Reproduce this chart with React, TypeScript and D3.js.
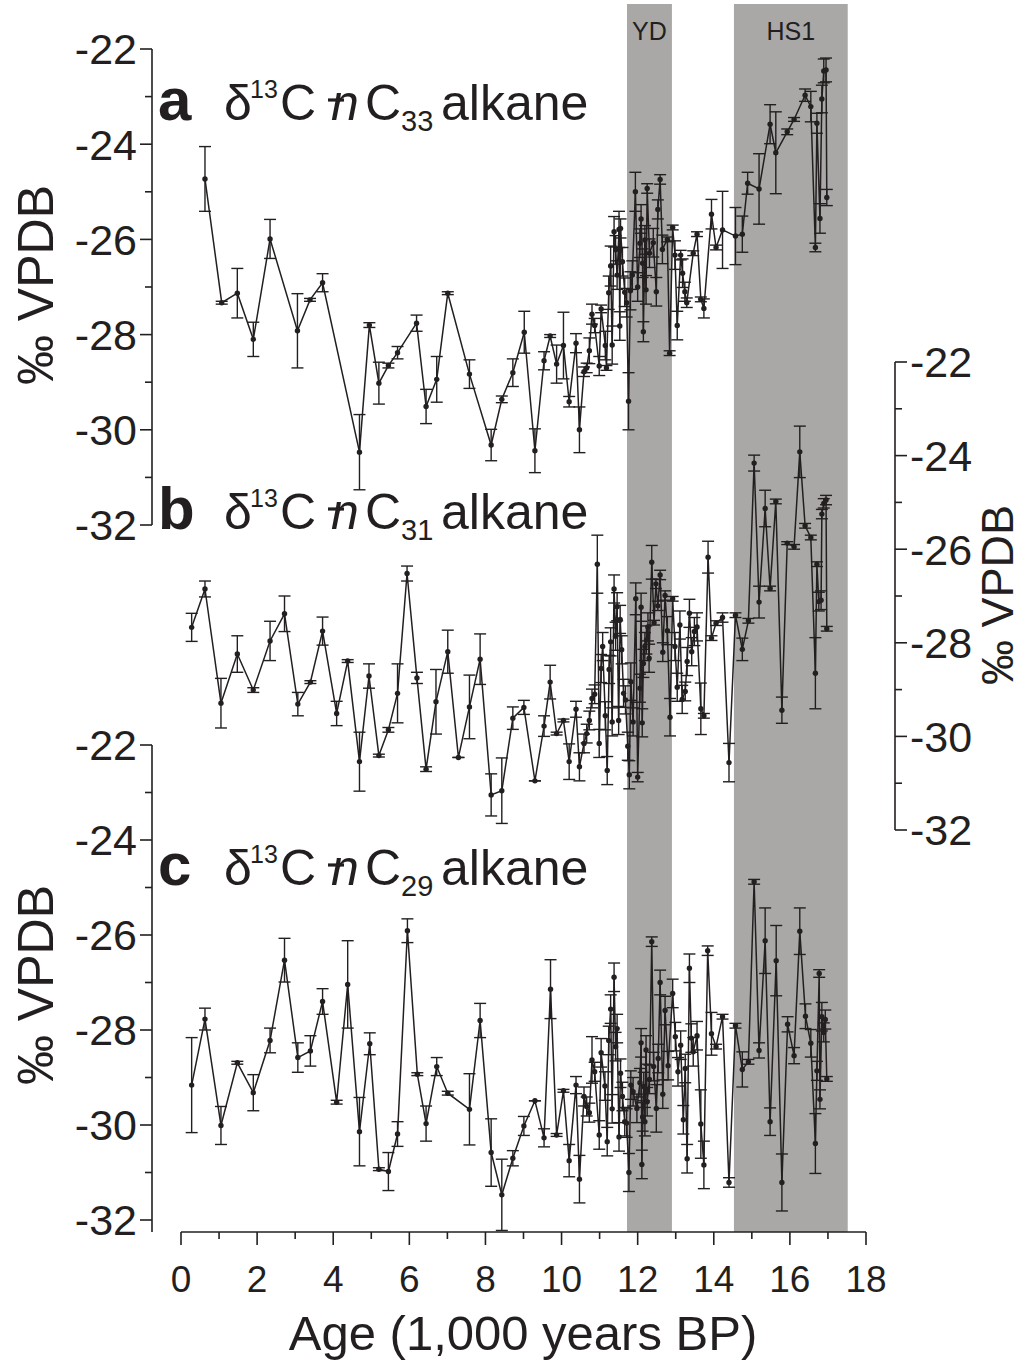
import React from "react";
import * as d3 from "d3";

// [age (kyr BP), d13C (‰ VPDB), error]
const seriesA: [number, number, number][] = [
  [0.63, -24.73, 0.68], [1.07, -27.33, 0.03], [1.48, -27.13, 0.52], [1.9, -28.1, 0.36], [2.34, -25.99, 0.41],
  [3.06, -27.92, 0.78], [3.39, -27.27, 0.03], [3.72, -26.91, 0.19], [4.69, -30.47, 0.79], [4.95, -27.8, 0.05],
  [5.2, -29.02, 0.44], [5.45, -28.65, 0.05], [5.69, -28.38, 0.13], [6.19, -27.76, 0.17], [6.44, -29.51, 0.36],
  [6.72, -28.94, 0.48], [7.01, -27.13, 0.03], [7.58, -28.83, 0.3], [8.15, -30.32, 0.33], [8.43, -29.36, 0.07],
  [8.72, -28.8, 0.29], [9.02, -27.95, 0.44], [9.3, -30.44, 0.46], [9.54, -28.55, 0.19], [9.7, -28.03, 0.03],
  [9.87, -28.62, 0.4], [10.05, -28.23, 0.7], [10.2, -29.41, 0.11], [10.38, -28.18, 0.2], [10.47, -30.0, 0.48],
  [10.59, -28.78, 0.1], [10.66, -28.7, 0.1], [10.73, -28.34, 0.27], [10.8, -27.57, 0.21], [10.87, -27.81, 0.15],
  [10.99, -28.66, 0.2], [11.04, -27.46, 0.08], [11.15, -28.23, 0.3], [11.18, -28.7, 0.05], [11.24, -27.12, 0.35],
  [11.29, -26.56, 0.42], [11.33, -28.22, 0.4], [11.38, -25.84, 0.32], [11.42, -26.22, 0.3], [11.46, -26.75, 0.3],
  [11.51, -25.79, 0.38], [11.53, -27.82, 0.3], [11.55, -25.77, 0.2], [11.6, -26.47, 0.3], [11.66, -27.11, 0.3],
  [11.71, -27.33, 0.3], [11.76, -29.4, 0.6], [11.81, -27.08, 0.4], [11.86, -26.75, 0.3], [11.94, -25.0, 0.41],
  [12.0, -27.0, 0.3], [12.06, -26.08, 0.3], [12.09, -25.57, 0.3], [12.13, -26.5, 0.3], [12.15, -27.94, 0.21],
  [12.19, -26.01, 0.3], [12.22, -27.06, 0.3], [12.25, -24.93, 0.1], [12.31, -26.29, 0.3], [12.41, -26.07, 0.3],
  [12.49, -27.1, 0.3], [12.53, -25.37, 0.2], [12.59, -24.74, 0.1], [12.65, -26.21, 0.3], [12.78, -26.0, 0.05],
  [12.84, -28.39, 0.05], [12.92, -25.75, 0.05], [12.98, -26.33, 0.3], [13.04, -27.81, 0.3], [13.13, -26.33, 0.1],
  [13.18, -26.71, 0.3], [13.24, -27.1, 0.2], [13.29, -27.33, 0.1], [13.46, -26.29, 0.05], [13.56, -25.89, 0.05],
  [13.66, -27.26, 0.05], [13.74, -27.45, 0.2], [13.94, -25.47, 0.31], [14.06, -26.17, 0.05], [14.23, -25.8, 0.81],
  [14.57, -25.93, 0.6], [14.75, -25.89, 0.38], [14.89, -24.82, 0.23], [15.19, -24.94, 0.74], [15.48, -23.58, 0.41],
  [15.63, -24.18, 0.86], [15.93, -23.74, 0.06], [16.11, -23.48, 0.04], [16.4, -22.97, 0.13], [16.55, -23.21, 0.32],
  [16.67, -26.17, 0.09], [16.71, -23.56, 0.21], [16.79, -25.56, 0.31], [16.84, -23.05, 0.29], [16.89, -22.46, 0.25],
  [16.95, -22.44, 0.25], [16.97, -25.12, 0.17],
];

const seriesB: [number, number, number][] = [
  [0.28, -27.67, 0.3], [0.63, -26.85, 0.17], [1.05, -29.29, 0.53], [1.48, -28.24, 0.39], [1.9, -29.01, 0.05],
  [2.34, -27.96, 0.42], [2.72, -27.38, 0.38], [3.07, -29.31, 0.25], [3.4, -28.84, 0.03], [3.72, -27.75, 0.3],
  [4.09, -29.51, 0.26], [4.38, -28.39, 0.03], [4.69, -30.54, 0.63], [4.94, -28.71, 0.26], [5.2, -30.41, 0.03],
  [5.45, -29.86, 0.05], [5.69, -29.08, 0.63], [5.94, -26.52, 0.16], [6.2, -28.75, 0.12], [6.44, -30.7, 0.05],
  [6.7, -29.26, 0.69], [7.01, -28.19, 0.46], [7.29, -30.45, 0.0], [7.58, -29.37, 0.68], [7.86, -28.35, 0.54],
  [8.15, -31.25, 0.45], [8.43, -31.16, 0.7], [8.72, -29.61, 0.24], [9.01, -29.38, 0.15], [9.3, -30.95, 0.0],
  [9.54, -29.78, 0.22], [9.7, -28.84, 0.36], [9.87, -29.94, 0.03], [10.05, -29.66, 0.03], [10.2, -30.54, 0.38],
  [10.38, -29.42, 0.17], [10.47, -30.65, 0.3], [10.59, -30.15, 0.2], [10.66, -29.94, 0.2], [10.73, -29.66, 0.2],
  [10.8, -29.19, 0.2], [10.87, -29.1, 0.2], [10.94, -26.32, 0.62], [10.99, -30.15, 0.3], [11.04, -28.55, 0.3],
  [11.08, -28.08, 0.3], [11.15, -29.56, 0.3], [11.2, -30.73, 0.3], [11.25, -28.57, 0.3], [11.29, -27.98, 0.3],
  [11.33, -29.69, 0.3], [11.38, -26.85, 0.3], [11.42, -27.86, 0.3], [11.46, -27.23, 0.3], [11.5, -29.66, 0.3],
  [11.54, -27.5, 0.3], [11.58, -28.15, 0.3], [11.63, -29.08, 0.3], [11.68, -29.22, 0.3], [11.74, -30.21, 0.3],
  [11.78, -30.82, 0.3], [11.82, -28.83, 0.4], [11.88, -29.69, 0.3], [11.95, -27.06, 0.34], [12.0, -30.87, 0.1],
  [12.06, -28.97, 0.3], [12.09, -27.24, 0.3], [12.12, -29.71, 0.3], [12.15, -28.44, 0.3], [12.19, -28.08, 0.3],
  [12.23, -27.94, 0.3], [12.27, -27.66, 0.3], [12.3, -28.33, 0.3], [12.37, -26.28, 0.36], [12.43, -27.57, 0.05],
  [12.48, -26.74, 0.1], [12.53, -27.21, 0.1], [12.59, -26.55, 0.1], [12.66, -28.2, 0.2], [12.72, -26.99, 0.1],
  [12.78, -27.74, 0.3], [12.85, -29.59, 0.4], [12.92, -27.06, 0.05], [12.98, -28.08, 0.3], [13.04, -28.95, 0.3],
  [13.11, -27.62, 0.3], [13.17, -29.21, 0.3], [13.25, -29.04, 0.2], [13.3, -28.4, 0.3], [13.36, -27.37, 0.3],
  [13.42, -28.19, 0.3], [13.49, -27.76, 0.3], [13.56, -27.66, 0.3], [13.66, -29.41, 0.55], [13.74, -29.56, 0.05],
  [13.85, -26.17, 0.34], [13.94, -27.9, 0.05], [14.06, -27.58, 0.05], [14.23, -27.46, 0.1], [14.4, -30.56, 0.41],
  [14.57, -27.41, 0.05], [14.75, -28.14, 0.24], [14.91, -27.53, 0.05], [15.06, -24.16, 0.17], [15.19, -27.13, 0.34],
  [15.35, -25.13, 0.39], [15.48, -26.84, 0.05], [15.63, -24.98, 0.05], [15.79, -29.44, 0.28], [15.93, -25.87, 0.03],
  [16.11, -25.95, 0.05], [16.26, -23.92, 0.55], [16.4, -25.5, 0.05], [16.55, -25.75, 0.05], [16.67, -28.65, 0.76],
  [16.71, -26.32, 0.05], [16.76, -27.12, 0.2], [16.82, -27.09, 0.2], [16.84, -25.25, 0.1], [16.89, -25.02, 0.1],
  [16.95, -24.95, 0.1], [16.97, -27.7, 0.05],
];

const seriesC: [number, number, number][] = [
  [0.28, -29.16, 1.0], [0.63, -27.77, 0.23], [1.05, -30.01, 0.4], [1.48, -28.69, 0.03], [1.9, -29.32, 0.38],
  [2.34, -28.22, 0.26], [2.72, -26.53, 0.46], [3.07, -28.58, 0.31], [3.4, -28.44, 0.32], [3.72, -27.4, 0.27],
  [4.09, -29.52, 0.04], [4.38, -27.04, 0.92], [4.69, -30.14, 0.72], [4.96, -28.29, 0.23], [5.2, -30.93, 0.03],
  [5.45, -30.98, 0.4], [5.69, -30.19, 0.26], [5.95, -25.91, 0.25], [6.21, -28.93, 0.03], [6.44, -29.97, 0.37],
  [6.72, -28.77, 0.19], [7.01, -29.33, 0.04], [7.58, -29.67, 0.75], [7.86, -27.8, 0.36], [8.15, -30.58, 0.71],
  [8.43, -31.47, 0.75], [8.72, -30.7, 0.16], [9.01, -30.02, 0.2], [9.3, -29.49, 0.0], [9.54, -30.27, 0.19],
  [9.71, -27.14, 0.62], [9.87, -30.21, 0.03], [10.05, -29.28, 0.03], [10.2, -30.75, 0.34], [10.38, -29.16, 0.18],
  [10.47, -31.14, 0.5], [10.59, -29.4, 0.2], [10.66, -29.61, 0.2], [10.73, -29.74, 0.2], [10.8, -28.63, 0.49],
  [10.87, -28.88, 0.2], [10.99, -30.21, 0.3], [11.04, -28.48, 0.3], [11.14, -29.18, 0.3], [11.2, -30.35, 0.3],
  [11.24, -28.22, 0.3], [11.29, -27.56, 0.3], [11.33, -29.66, 0.3], [11.38, -26.89, 0.3], [11.42, -28.35, 0.3],
  [11.46, -27.97, 0.3], [11.51, -30.25, 0.3], [11.55, -28.91, 0.3], [11.6, -29.4, 0.3], [11.66, -29.93, 0.3],
  [11.71, -29.96, 0.3], [11.77, -31.0, 0.4], [11.82, -29.16, 0.3], [11.88, -29.3, 0.3], [11.98, -29.65, 0.3],
  [12.06, -29.11, 0.3], [12.09, -28.27, 0.3], [12.11, -30.83, 0.3], [12.13, -29.83, 0.3], [12.16, -29.19, 0.3],
  [12.19, -29.93, 0.3], [12.22, -28.42, 0.3], [12.25, -29.51, 0.3], [12.31, -29.04, 0.3], [12.37, -26.14, 0.1],
  [12.42, -28.77, 0.3], [12.49, -29.65, 0.5], [12.54, -28.6, 0.3], [12.59, -27.0, 0.26], [12.66, -29.35, 0.3],
  [12.72, -27.59, 0.3], [12.8, -28.75, 0.3], [12.92, -27.23, 0.3], [12.99, -28.14, 0.3], [13.06, -28.88, 0.3],
  [13.13, -28.32, 0.3], [13.2, -29.89, 0.3], [13.25, -28.81, 0.3], [13.3, -30.71, 0.3], [13.36, -26.7, 0.3],
  [13.41, -28.17, 0.3], [13.46, -28.46, 0.3], [13.56, -28.12, 0.3], [13.66, -29.98, 0.72], [13.74, -30.84, 0.5],
  [13.84, -26.33, 0.1], [13.94, -28.08, 0.45], [14.06, -28.35, 0.05], [14.23, -27.72, 0.05], [14.4, -31.21, 0.1],
  [14.57, -27.91, 0.05], [14.75, -28.83, 0.37], [14.91, -28.67, 0.05], [15.06, -24.88, 0.05], [15.19, -28.43, 0.16],
  [15.35, -26.12, 0.69], [15.48, -29.93, 0.29], [15.64, -26.54, 0.74], [15.79, -31.21, 0.6], [15.94, -27.88, 0.16],
  [16.11, -28.54, 0.17], [16.26, -25.92, 0.49], [16.41, -27.71, 0.26], [16.55, -28.28, 0.29], [16.67, -30.39, 0.63],
  [16.71, -28.86, 0.2], [16.77, -26.81, 0.08], [16.79, -29.46, 0.2], [16.84, -27.72, 0.3], [16.89, -28.05, 0.2],
  [16.93, -27.78, 0.2], [16.97, -29.03, 0.05],
];

const bands = [
  { label: "YD", start: 11.72, end: 12.9 },
  { label: "HS1", start: 14.53, end: 17.52 },
];

const yTicks = [-22, -24, -26, -28, -30, -32];
const yMinor = [-23, -25, -27, -29, -31];
const xTicks = [0, 2, 4, 6, 8, 10, 12, 14, 16, 18];
const xMinor = [1, 3, 5, 7, 9, 11, 13, 15, 17];

const FONT = "'Liberation Sans', Arial, sans-serif";
const INK = "#231f20";

const x = d3.scaleLinear().domain([0, 18]).range([181, 866]);
const yA = d3.scaleLinear().domain([-22, -32]).range([49, 525]);
const yB = d3.scaleLinear().domain([-22, -32]).range([362, 830]);
const yC = d3.scaleLinear().domain([-22, -32]).range([745, 1220]);

function Series({ data, y }: { data: [number, number, number][]; y: d3.ScaleLinear<number, number> }) {
  const line = d3
    .line<[number, number, number]>()
    .x((d) => x(d[0]))
    .y((d) => y(d[1]));
  const cap = 6;
  return (
    <g>
      {data.map((d, i) => {
        const px = x(d[0]);
        const y1 = y(d[1] + d[2]);
        const y2 = y(d[1] - d[2]);
        return (
          <g key={i} stroke={INK} strokeWidth={1.4}>
            <line x1={px} x2={px} y1={y1} y2={y2} />
            <line x1={px - cap} x2={px + cap} y1={y1} y2={y1} />
            <line x1={px - cap} x2={px + cap} y1={y2} y2={y2} />
          </g>
        );
      })}
      <path d={line(data) || ""} fill="none" stroke={INK} strokeWidth={1.5} />
      {data.map((d, i) => (
        <circle key={i} cx={x(d[0])} cy={y(d[1])} r={2.7} fill={INK} />
      ))}
    </g>
  );
}

function YAxis({ y, side, axisX, top, bottom }: { y: d3.ScaleLinear<number, number>; side: "left" | "right"; axisX: number; top: number; bottom: number }) {
  const dir = side === "left" ? -1 : 1;
  return (
    <g stroke={INK} strokeWidth={1.6}>
      <line x1={axisX} x2={axisX} y1={top} y2={bottom} />
      {yTicks.map((t) => (
        <g key={t}>
          <line x1={axisX} x2={axisX + dir * 12} y1={y(t)} y2={y(t)} />
          <text
            x={axisX + dir * 15}
            y={y(t)}
            dy="0.36em"
            textAnchor={side === "left" ? "end" : "start"}
            fontSize={43}
            fontFamily={FONT}
            fill={INK}
            stroke="none"
          >
            {String(t)}
          </text>
        </g>
      ))}
      {yMinor.map((t) => (
        <line key={t} x1={axisX} x2={axisX + dir * 7} y1={y(t)} y2={y(t)} />
      ))}
    </g>
  );
}

function PanelTitle({ letter, sub, baseline }: { letter: string; sub: string; baseline: number }) {
  return (
    <g fontFamily={FONT} fill={INK}>
      <text x={158} y={baseline} fontSize={60} fontWeight="bold">{letter}</text>
      <text x={224} y={baseline} fontSize={50}>δ</text>
      <text x={250} y={baseline - 22} fontSize={25}>13</text>
      <text x={280} y={baseline} fontSize={50}>C</text>
      <text x={331} y={baseline} fontSize={50} fontStyle="italic">n</text>
      <line x1={328} x2={344} y1={baseline - 20} y2={baseline - 20} stroke={INK} strokeWidth={3.2} />
      <text x={365} y={baseline} fontSize={50}>C</text>
      <text x={401} y={baseline + 11} fontSize={29}>{sub}</text>
      <text x={441} y={baseline} fontSize={50}>alkane</text>
    </g>
  );
}

export default function App() {
  return (
    <svg
      width={1026}
      height={1360}
      style={{ position: "absolute", left: 0, top: 0, background: "#fff" }}
    >
      {bands.map((b) => (
        <g key={b.label}>
          <rect x={x(b.start)} y={4} width={x(b.end) - x(b.start)} height={1232 - 4} fill="#a9a8a7" />
          <text
            x={(x(b.start) + x(b.end)) / 2}
            y={40}
            textAnchor="middle"
            fontSize={25}
            fontFamily={FONT}
            fill={INK}
          >
            {b.label}
          </text>
        </g>
      ))}

      <YAxis y={yA} side="left" axisX={152} top={49} bottom={525} />
      <YAxis y={yB} side="right" axisX={895} top={362} bottom={830} />
      <YAxis y={yC} side="left" axisX={152} top={745} bottom={1232} />

      {/* X axis */}
      <g stroke={INK} strokeWidth={1.6}>
        <line x1={x(0)} x2={x(18)} y1={1232} y2={1232} />
        {xTicks.map((t) => (
          <g key={t}>
            <line x1={x(t)} x2={x(t)} y1={1232} y2={1245} />
            <text
              x={x(t)}
              y={1292}
              textAnchor="middle"
              fontSize={37}
              fontFamily={FONT}
              fill={INK}
              stroke="none"
            >
              {t}
            </text>
          </g>
        ))}
        {xMinor.map((t) => (
          <line key={t} x1={x(t)} x2={x(t)} y1={1232} y2={1239} />
        ))}
      </g>
      <text x={523} y={1350} textAnchor="middle" fontSize={49} fontFamily={FONT} fill={INK}>
        Age (1,000 years BP)
      </text>

      <text transform="translate(53,285) rotate(-90)" textAnchor="middle" fontSize={50} fontFamily={FONT} fill={INK}>
        ‰ VPDB
      </text>
      <text transform="translate(53,985) rotate(-90)" textAnchor="middle" fontSize={50} fontFamily={FONT} fill={INK}>
        ‰ VPDB
      </text>
      <text transform="translate(1013,595) rotate(-90)" textAnchor="middle" fontSize={45} fontFamily={FONT} fill={INK}>
        ‰ VPDB
      </text>

      <PanelTitle letter="a" sub="33" baseline={120} />
      <PanelTitle letter="b" sub="31" baseline={529} />
      <PanelTitle letter="c" sub="29" baseline={885} />

      <Series data={seriesA} y={yA} />
      <Series data={seriesB} y={yB} />
      <Series data={seriesC} y={yC} />
    </svg>
  );
}
